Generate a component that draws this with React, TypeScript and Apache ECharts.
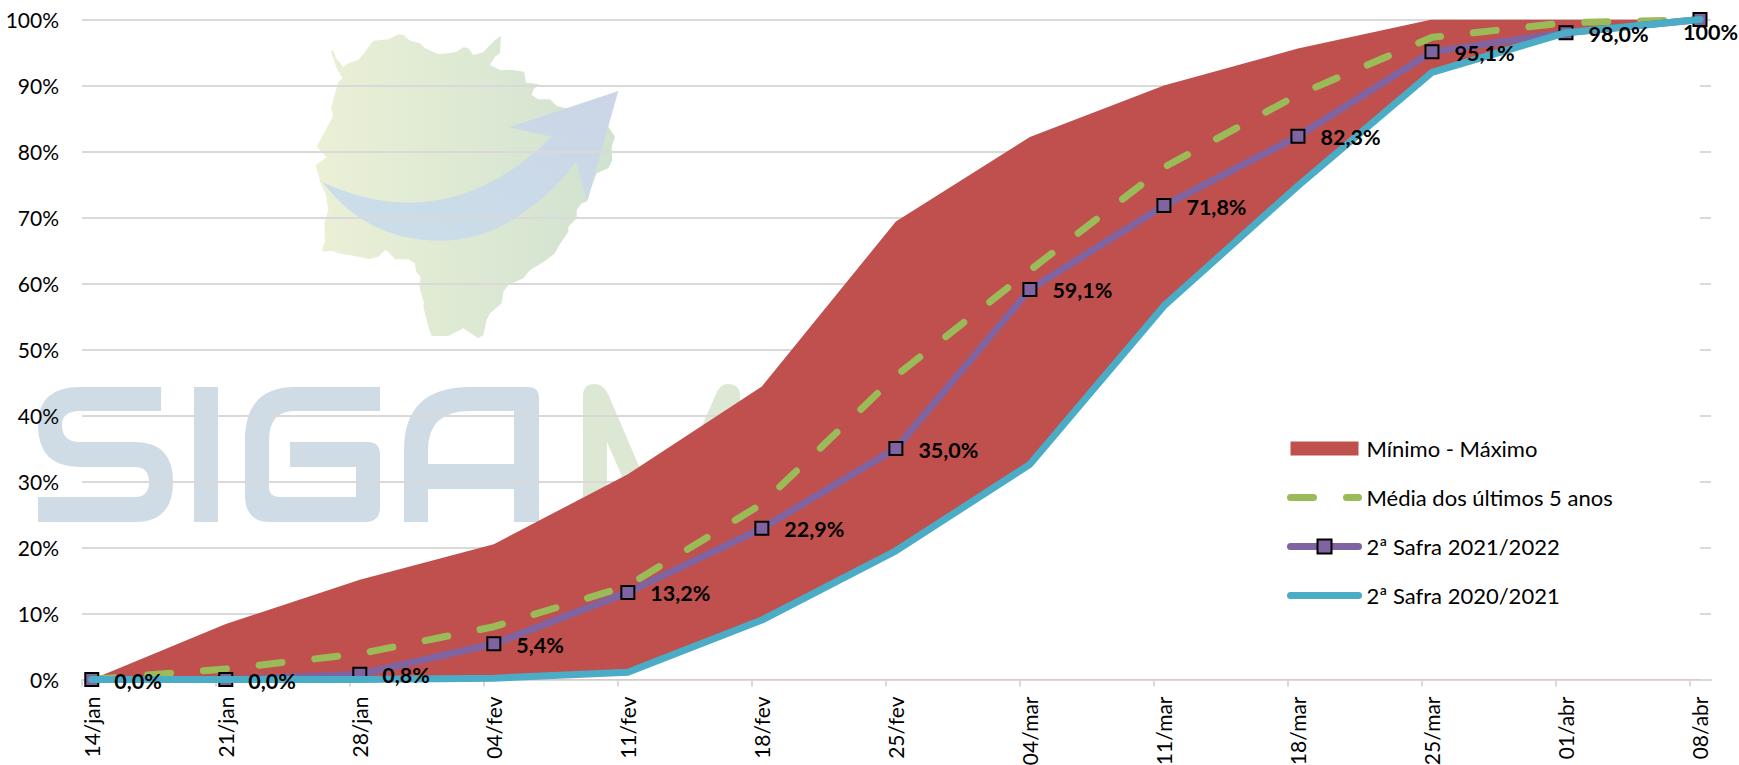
import React, { useEffect, useRef } from "react";
import * as echarts from "echarts";

const weeks = ["14/jan", "21/jan", "28/jan", "04/fev", "11/fev", "18/fev", "25/fev", "04/mar", "11/mar", "18/mar", "25/mar", "01/abr", "08/abr"];
const maximo = [0, 8.4, 15.1, 20.5, 31.1, 44.4, 69.4, 82.2, 90.0, 95.6, 100, 100, 100];
const minimo = [0, 0, 0, 0.2, 1.1, 9.0, 19.5, 32.6, 56.6, 74.8, 92.0, 98.0, 100];
const media = [0, 1.6, 3.9, 8.0, 14.2, 26.6, 46.0, 62.0, 77.6, 88.6, 97.3, 99.5, 100];
const safra2122 = [0, 0, 0.8, 5.4, 13.2, 22.9, 35.0, 59.1, 71.8, 82.3, 95.1, 98.0, 100];
const yTicks = [0, 10, 20, 30, 40, 50, 60, 70, 80, 90, 100];

const LABEL_FONT = "Lato";
// Weekly points sit a little to the right of their tick marks.
const POINT_SHIFT = 0.07286;
const AXIS_MAX = 12.155;

const S_PATH = "M161 387H80Q38 387 38 425Q38 467 80 467H135Q149 467 149 482Q149 497 135 497H38V522H135Q173 522 173 482Q173 442 135 442H80Q62 442 62 425Q62 411 80 411H161Z";
const I_PATH = "M194 387H218V522H194Z";
const G_PATH = "M380 387H295Q245 387 245 440V495Q245 522 270 522H365Q380 522 380 507V455Q380 442 368 442H290V467H356V497H280Q269 497 269 487V440Q269 411 295 411H380Z";
const A_PATH = "M404 522V450Q404 387 470 387H528Q539 387 539 398V522H514V489H428V522ZM428 464H514V411H470Q428 411 428 450Z";
const M_PATH = "M583 530V396Q583 384 595 384Q604 384 609 396L662 520L715 396Q720 384 727 384Q740 384 740 396V530H716V440L670 540H650L607 442V530Z";
const ARROW_PATH = "M322.7 182.3Q366.7 202.7 410 202.7Q486.7 201.7 551.7 136.7L509.3 127.3L618.3 91L587.3 201L576 162.3Q513.3 240.7 440 240.7Q366.7 240.7 322.7 182.3Z";
// Small empty sub-paths widen the icon box so the swatch stays thinner than the line markers.
const BAND_ICON = "path://M0 0L0 0ZM0 1.75H68V15.75H0ZM68 17.5L68 17.5Z";

// Outline of the state map in the watermark, traced at three times page size from (300, 20).
const mapOutline = [
  [92, 92], [100, 92], [108, 115], [130, 140], [145, 130], [175, 120], [192, 100], [210, 75], [220, 62], [265, 58],
  [295, 43], [310, 45], [330, 62], [360, 70], [375, 85], [415, 102], [445, 100], [470, 95], [490, 82], [505, 85],
  [520, 105], [550, 97], [565, 80], [585, 60], [603, 47], [600, 100], [585, 110], [570, 135], [600, 150], [640, 150],
  [672, 155], [678, 188], [715, 192], [700, 210], [695, 225], [715, 238], [750, 238], [770, 258], [800, 265], [925, 320],
  [945, 350], [935, 380], [937, 420], [925, 445], [890, 460], [875, 500], [860, 545], [845, 550], [830, 570], [830, 595],
  [805, 620], [805, 635], [775, 680], [765, 700], [725, 730], [690, 750], [670, 775], [625, 795], [610, 815], [605, 850],
  [570, 880], [560, 900], [550, 945], [535, 955], [490, 925], [445, 948], [395, 948], [385, 920], [380, 900], [370, 860],
  [372, 850], [358, 800], [362, 770], [348, 755], [345, 730], [325, 718], [285, 718], [265, 695], [255, 690], [235, 710],
  [208, 717], [165, 708], [115, 700], [95, 692], [68, 695], [68, 680], [75, 665], [73, 610], [85, 570], [78, 525],
  [62, 490], [55, 465], [47, 435], [80, 412], [50, 380], [100, 287], [93, 265], [115, 185], [128, 175], [110, 145],
].map(([x, y]) => [300 + x / 3, 20 + y / 3]);

const logoShapes: Record<string, string> = {
  logoS: S_PATH,
  logoI: I_PATH,
  logoG: G_PATH,
  logoA: A_PATH,
  logoM: M_PATH,
  logoArrow: ARROW_PATH,
};
Object.keys(logoShapes).forEach((name) => {
  echarts.graphic.registerShape(name, echarts.graphic.extendPath(logoShapes[name], {}));
});

const toPoints = (values: number[]) => values.map((v, i) => [i + POINT_SHIFT, v]);
const pct = (v: number) => (v === 100 ? "100%" : v.toFixed(1).replace(".", ",") + "%");

export default function App() {
  const ref = useRef<HTMLDivElement>(null);

  useEffect(() => {
    const chart = echarts.init(ref.current!, undefined, { renderer: "svg" });
    const grey = "#D9D9D9";

    chart.setOption({
      animation: false,
      backgroundColor: "#FFFFFF",
      grid: { left: 82, right: 28, top: 19.5, bottom: 85.5, outerBoundsMode: "none" },
      xAxis: {
        type: "value",
        min: 0,
        max: AXIS_MAX,
        interval: 1,
        splitLine: { show: false },
        axisLine: { show: true, onZero: false, lineStyle: { color: grey, width: 2 } },
        axisTick: {
          show: true,
          length: 7,
          lineStyle: { color: grey, width: 2 },
          customValues: weeks.map((_, i) => i),
        },
        axisLabel: {
          rotate: 90,
          margin: 17,
          color: "#000000",
          fontFamily: LABEL_FONT,
          fontSize: 21,
          customValues: weeks.map((_, i) => i + POINT_SHIFT),
          formatter: (v: number) => weeks[Math.round(v - POINT_SHIFT)] ?? "",
        },
      },
      yAxis: {
        type: "value",
        min: 0,
        max: 100,
        interval: 10,
        axisLine: { show: false },
        axisTick: { show: false },
        splitLine: { show: true, lineStyle: { color: grey, width: 2 } },
        axisLabel: {
          margin: 23,
          color: "#000000",
          fontFamily: LABEL_FONT,
          fontSize: 21,
          customValues: yTicks,
          formatter: (v: number) => v + "%",
        },
      },
      legend: {
        orient: "vertical",
        left: 1282,
        top: 431.5,
        itemWidth: 68,
        itemHeight: 17.5,
        itemGap: 25,
        selectedMode: false,
        textStyle: { fontFamily: LABEL_FONT, fontSize: 22, color: "#000000", lineHeight: 24, padding: [0, 0, 0, 3] },
        data: [
          { name: "Mínimo - Máximo", icon: BAND_ICON, itemStyle: { color: "#C0504D" } },
          { name: "Média dos últimos 5 anos", itemStyle: { opacity: 0 }, lineStyle: { width: 7, cap: "round" } },
          { name: "2ª Safra 2021/2022", lineStyle: { width: 7, cap: "round" } },
          { name: "2ª Safra 2020/2021", itemStyle: { opacity: 0 }, lineStyle: { width: 7, cap: "round" } },
        ],
      },
      graphic: {
        elements: [
          {
            type: "polygon",
            z: -1,
            silent: true,
            shape: { points: mapOutline },
            style: {
              fill: new echarts.graphic.LinearGradient(0, 0, 1, 0, [
                { offset: 0, color: "#EBF0D6" },
                { offset: 1, color: "#D0E2D0" },
              ]),
            },
          },
          {
            type: "logoArrow",
            z: -1,
            silent: true,
            style: {
              fill: new echarts.graphic.LinearGradient(0, 1, 1, 0, [
                { offset: 0, color: "#CBDFEA" },
                { offset: 1, color: "#CBD5E6" },
              ]),
            },
          },
          ...["logoS", "logoI", "logoG", "logoA"].map((type) => ({ type, z: -1, silent: true, style: { fill: "#CFDCE6" } })),
          { type: "logoM", z: -1, silent: true, style: { fill: "#DCE7D4" } },
        ],
      },
      series: [
        {
          name: "Mínimo - Máximo",
          type: "line",
          data: toPoints(maximo),
          symbol: "none",
          lineStyle: { width: 0 },
          itemStyle: { color: "#C0504D" },
          areaStyle: { color: "#C0504D", opacity: 1 },
          z: 2,
        },
        {
          // White floor under the band: hides the gridlines below the minimum curve.
          name: "base",
          type: "line",
          data: toPoints(minimo),
          symbol: "none",
          lineStyle: { width: 0 },
          areaStyle: { color: "#FFFFFF", opacity: 1 },
          z: 3,
        },
        {
          name: "Média dos últimos 5 anos",
          type: "line",
          data: toPoints(media),
          symbol: "none",
          clip: false,
          itemStyle: { color: "#9BBB59" },
          lineStyle: { color: "#9BBB59", width: 7, type: [23, 33], cap: "round", join: "round" },
          z: 4,
        },
        {
          name: "2ª Safra 2021/2022",
          type: "line",
          data: toPoints(safra2122),
          symbol: "rect",
          symbolSize: 13,
          clip: false,
          itemStyle: { color: "#8064A2", borderColor: "#000000", borderWidth: 2 },
          lineStyle: { color: "#8064A2", width: 7, cap: "round", join: "round" },
          z: 5,
        },
        {
          name: "2ª Safra 2020/2021",
          type: "line",
          data: toPoints(minimo),
          symbol: "none",
          clip: false,
          itemStyle: { color: "#4BACC6" },
          lineStyle: { color: "#4BACC6", width: 7, cap: "round", join: "round" },
          z: 6,
        },
        {
          // Percent labels ride in their own top layer so no curve passes over them.
          name: "rótulos",
          type: "line",
          data: toPoints(safra2122),
          symbol: "circle",
          symbolSize: 13,
          clip: false,
          itemStyle: { color: "rgba(0,0,0,0)", borderWidth: 0 },
          lineStyle: { width: 0, opacity: 0 },
          label: {
            show: true,
            position: "right",
            distance: 16,
            color: "#000000",
            fontFamily: LABEL_FONT,
            fontWeight: "bold",
            fontSize: 21.5,
            formatter: (p: any) => pct(p.value[1]),
          },
          labelLayout: (params: any) =>
            params.dataIndex === weeks.length - 1 ? { dx: -39.5, dy: 12 } : { dy: 1 },
          z: 7,
        },
      ],
    });

    return () => chart.dispose();
  }, []);

  return (
    <div
      ref={ref}
      style={{ position: "fixed", left: 0, top: 0, width: 1739, height: 765, overflow: "hidden", background: "#FFFFFF" }}
    />
  );
}
